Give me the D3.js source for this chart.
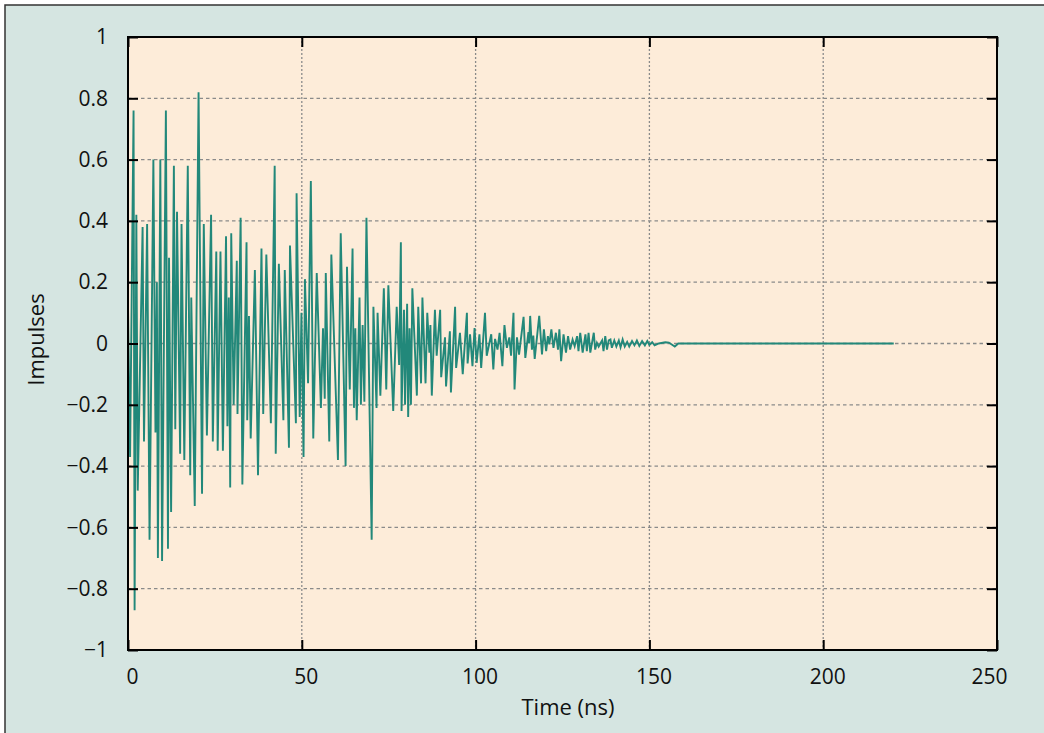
<!DOCTYPE html>
<html>
<head>
<meta charset="utf-8">
<script src="https://cdn.jsdelivr.net/npm/d3@7"></script>
<style>
  body { margin: 0; background: #fff; }
  svg { display: block; }
  text { font-family: "Open Sans", "Noto Sans", sans-serif; fill: #111; }
</style>
</head>
<body>
<div id="chart"></div>
<script>
// impulse response as [time (ns), amplitude]
const early = [
  [0, 0.12], [0.6, -0.37], [1.6, 0.76], [1.9, -0.87], [2.4, 0.42], [2.8, -0.48],
  [4.2, 0.38], [4.6, -0.32], [5.5, 0.39], [6.2, -0.64], [7.3, 0.60], [7.9, -0.29],
  [8.3, 0.20], [8.6, -0.70], [9.3, 0.60], [9.8, -0.71], [10.9, 0.76], [11.5, -0.67],
  [11.8, 0.28], [12.4, -0.55], [13.2, 0.58], [13.6, -0.28], [14.1, 0.43], [15.0, -0.36],
  [15.4, 0.39], [16.2, -0.38], [17.2, 0.58], [17.9, -0.43], [18.2, 0.15], [19.2, -0.53],
  [20.3, 0.82], [21.3, -0.49], [21.8, 0.39], [22.7, -0.30], [23.9, 0.42], [24.4, -0.32],
  [25.4, 0.30], [25.8, -0.35]
];
const mid1 = [
  [26.6, 0.30], [27.3, -0.35], [28.2, 0.35], [28.6, -0.27], [29.0, 0.15], [29.4, -0.47],
  [29.7, 0.36], [30.4, -0.20], [31.3, 0.27], [31.5, -0.23], [32.4, 0.41], [32.9, -0.46],
  [34.1, 0.33], [34.3, -0.25], [34.8, 0.09], [35.3, -0.31], [36.5, 0.24], [37.4, -0.43],
  [38.4, 0.31], [38.9, -0.23], [39.8, 0.29], [41.1, -0.26], [42.2, 0.58], [42.5, -0.36],
  [43.4, 0.26], [44.7, -0.25], [45.1, 0.24], [46.3, -0.34], [46.6, 0.32], [48.3, -0.26],
  [48.5, 0.49], [49.4, -0.24], [49.9, 0.10], [50.5, -0.37], [50.9, 0.21], [51.8, -0.13],
  [52.6, 0.53], [53.3, -0.31]
];
const mid2 = [
  [54.3, 0.23], [55.5, -0.21], [56.1, 0.05], [56.6, -0.18], [56.9, 0.23], [57.9, -0.32],
  [58.5, 0.29], [60.4, -0.38], [61.2, 0.36], [62.6, -0.40], [63.0, 0.25], [63.8, -0.15],
  [64.6, 0.31], [65.0, -0.21], [65.4, 0.05], [65.8, -0.25], [66.6, 0.15], [67.0, -0.20],
  [67.5, 0.06], [68.0, -0.19], [68.6, 0.41], [70.1, -0.64], [70.6, 0.12], [71.5, -0.21],
  [71.8, 0.10], [72.6, -0.17], [73.6, 0.18], [74.3, -0.15], [74.9, 0.19], [76.3, -0.22],
  [77.3, 0.12], [78.0, -0.07], [78.5, 0.33]
];
const decay = [
  [78.7, -0.22], [79.4, 0.11], [79.7, -0.20], [80.3, 0.13], [80.6, -0.24], [81.0, 0.05],
  [81.4, -0.20], [81.8, 0.18], [83.1, -0.17], [83.5, 0.12], [84.3, -0.13], [84.7, 0.15],
  [85.6, -0.13], [86.1, 0.10], [86.7, -0.03], [87.0, 0.06], [87.4, -0.17], [88.3, 0.11],
  [88.8, -0.04], [89.8, 0.11], [90.1, -0.11], [91.2, 0.02], [91.5, -0.14], [92.6, 0.04],
  [92.9, -0.16], [94.1, 0.12], [94.4, -0.08], [95.5, 0.035], [96.3, -0.10], [97.5, 0.10],
  [97.7, -0.065], [98.4, 0.03], [99.1, -0.074], [99.7, 0.05], [100.3, -0.063], [101.1, 0.03],
  [101.6, -0.08], [102.7, 0.10], [103.2, -0.04], [104.5, 0.03], [105.1, -0.085], [105.6, 0.015],
  [106.3, -0.02], [106.9, 0.035], [107.7, -0.074], [108.3, 0.06], [109.0, -0.014], [109.7, 0.02],
  [110.2, -0.04], [110.9, 0.10], [111.2, -0.15], [111.9, 0.02], [112.5, -0.036], [113.8, 0.087],
  [114.3, -0.047], [115.2, 0.037], [115.4, 0.0], [115.7, 0.09], [116.2, -0.02], [116.6, 0.026],
  [117.0, -0.05], [118.3, 0.09]
];
const tail = [
  [119.1, -0.036], [119.65, 0.046], [120.3, -0.025], [120.8, 0.024], [121.2, -0.003], [121.8, 0.046],
  [122.4, -0.014], [123.1, 0.035], [123.7, -0.02], [124.1, 0.046], [124.6, -0.058], [125.3, 0.03],
  [126.0, -0.03], [126.6, 0.024], [127.2, -0.02], [127.9, 0.013], [128.5, -0.009], [129.2, 0.024],
  [129.6, -0.025], [130.1, 0.035], [130.8, -0.03], [131.6, 0.03], [132.0, -0.025], [132.5, 0.035],
  [133.0, -0.03], [134.0, 0.035], [134.4, -0.02], [134.9, 0.002], [135.4, -0.01], [136.4, 0.01],
  [136.8, -0.025], [137.3, 0.024], [137.8, -0.02], [138.3, 0.01], [138.8, 0.013], [139.2, -0.014],
  [139.9, 0.01], [140.5, -0.01], [141.2, 0.01], [141.7, -0.012], [142.3, 0.013], [142.9, -0.01],
  [143.6, 0.005], [144.2, -0.01], [145.0, 0.008], [145.7, -0.006], [146.4, 0.01], [147.1, -0.008],
  [147.9, 0.008], [148.7, -0.006], [149.4, 0.008], [150.0, -0.005], [150.8, 0.004], [151.5, -0.006],
  [152.7, 0.0], [154.6, 0.004], [155.6, 0.003], [157.3, -0.01], [158.3, 0.0], [220.3, 0.0]
];

const xTicks = [0, 50, 100, 150, 200, 250];
const yTicks = [-1, -0.8, -0.6, -0.4, -0.2, 0, 0.2, 0.4, 0.6, 0.8, 1];

const W = 1044, H = 733;
const plot = {left: 128, top: 37, right: 997, bottom: 650};

const svg = d3.select("#chart").append("svg")
    .attr("width", W)
    .attr("height", H);

// outer panel
svg.append("rect")
    .attr("x", 5).attr("y", 5)
    .attr("width", W + 20).attr("height", H + 20)
    .attr("fill", "#d5e5e1")
    .attr("stroke", "#333")
    .attr("stroke-width", 1.5);

const x = d3.scaleLinear().domain([0, 250]).range([plot.left, plot.right]);
const y = d3.scaleLinear().domain([-1, 1]).range([plot.bottom, plot.top]);

svg.append("rect")
    .attr("x", plot.left).attr("y", plot.top)
    .attr("width", plot.right - plot.left)
    .attr("height", plot.bottom - plot.top)
    .attr("fill", "#fdecd9");

// grid
svg.append("g").selectAll("line")
    .data(yTicks.slice(1, -1))
    .enter().append("line")
    .attr("x1", plot.left).attr("x2", plot.right)
    .attr("y1", d => y(d)).attr("y2", d => y(d))
    .attr("stroke", "#8a8a8a")
    .attr("stroke-width", 1.3)
    .attr("stroke-dasharray", "3.5,3");

svg.append("g").selectAll("line")
    .data(xTicks.slice(1, -1))
    .enter().append("line")
    .attr("x1", d => x(d)).attr("x2", d => x(d))
    .attr("y1", plot.top).attr("y2", plot.bottom)
    .attr("stroke", "#8a8a8a")
    .attr("stroke-width", 1.3)
    .attr("stroke-dasharray", "2,2");

// signal
const signal = early.concat(mid1, mid2, decay, tail);

svg.append("path")
    .datum(signal)
    .attr("fill", "none")
    .attr("stroke", "#22887a")
    .attr("stroke-width", 1.9)
    .attr("stroke-linejoin", "miter")
    .attr("d", d3.line().x(d => x(d[0])).y(d => y(d[1])));

// axes with inward ticks (mirrored on top/right)
const fmt = d => d === 0 ? "0" : (d < 0 ? "\u2212" : "") + d3.format("~g")(Math.abs(d));

const bottomAxis = svg.append("g")
    .attr("transform", `translate(0,${plot.bottom})`)
    .call(d3.axisBottom(x).tickValues(xTicks).tickSize(-10).tickPadding(19).tickFormat(d => d));
const leftAxis = svg.append("g")
    .attr("transform", `translate(${plot.left},0)`)
    .call(d3.axisLeft(y).tickValues(yTicks).tickSize(-10).tickPadding(20).tickFormat(fmt));
const topAxis = svg.append("g")
    .attr("transform", `translate(0,${plot.top})`)
    .call(d3.axisTop(x).tickValues(xTicks).tickSize(-10).tickFormat(""));
const rightAxis = svg.append("g")
    .attr("transform", `translate(${plot.right},0)`)
    .call(d3.axisRight(y).tickValues(yTicks).tickSize(-10).tickFormat(""));

[bottomAxis, leftAxis, topAxis, rightAxis].forEach(g => {
    g.select(".domain").remove();
    g.selectAll(".tick line").attr("stroke", "#000").attr("stroke-width", 2);
    g.selectAll("text")
        .style("font-family", '"Open Sans", "Noto Sans", sans-serif')
        .style("font-size", "21px")
        .attr("fill", "#111");
});
bottomAxis.selectAll(".tick text").attr("dx", d => d === 250 ? -8 : 4);

// frame
svg.append("rect")
    .attr("x", plot.left).attr("y", plot.top)
    .attr("width", plot.right - plot.left)
    .attr("height", plot.bottom - plot.top)
    .attr("fill", "none")
    .attr("stroke", "#000")
    .attr("stroke-width", 2);

svg.append("text")
    .attr("x", 568)
    .attr("y", 715)
    .attr("text-anchor", "middle")
    .style("font-size", "22px")
    .text("Time (ns)");

svg.append("text")
    .attr("transform", `translate(44,${(plot.top + plot.bottom) / 2 - 4}) rotate(-90)`)
    .attr("text-anchor", "middle")
    .style("font-size", "22px")
    .text("Impulses");
</script>
</body>
</html>
